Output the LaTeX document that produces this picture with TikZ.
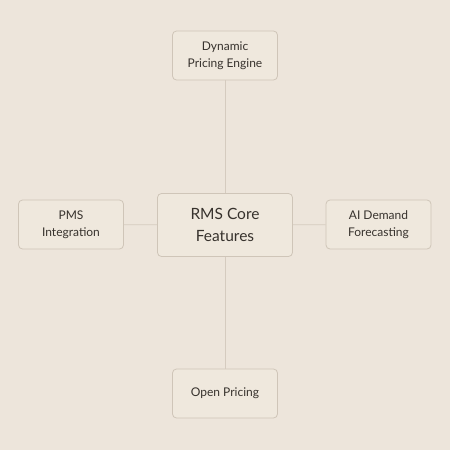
\documentclass[tikz,border=0pt]{standalone}
\usepackage{fontspec}
\setmainfont{Lato}
\usepackage{tikz}
\usetikzlibrary{positioning}
\definecolor{paper}{HTML}{EDE5DB}
\definecolor{boxfill}{HTML}{EFE8DD}
\definecolor{boxline}{HTML}{CFC5B8}
\definecolor{wire}{HTML}{D5CBBF}
\definecolor{ink}{HTML}{37322D}
\tikzset{
  feature/.style={draw=boxline,line width=0.8pt,rounded corners=4pt,fill=boxfill,
                  minimum width=105pt,minimum height=49pt,inner sep=0pt,align=center,
                  text=ink,font=\fontsize{12}{17}\selectfont},
  corebox/.style={feature,minimum width=135pt,minimum height=63pt,
                  font=\fontsize{15.5}{22}\selectfont},
  link/.style={draw=wire,line width=0.8pt}
}
\begin{document}
\begin{tikzpicture}[x=1pt,y=-1pt]
 \fill[paper] (0,0) rectangle (450,450);
 \useasboundingbox (0,0) rectangle (450,450);
 \node[corebox] (core) at (225,225) {RMS Core\\Features};
 \node[feature] (pricing) at (225,55.5) {Dynamic\\Pricing Engine};
 \node[feature] (pms) at (71,224.5) {PMS\\Integration};
 \node[feature] (forecast) at (378.5,224.5) {AI Demand\\Forecasting};
 \node[feature] (open) at (225,393.5) {Open Pricing};
 % spokes
 \foreach \n in {pricing,pms,forecast,open}
  \draw[link] (core) -- (\n);
\end{tikzpicture}
\end{document}
